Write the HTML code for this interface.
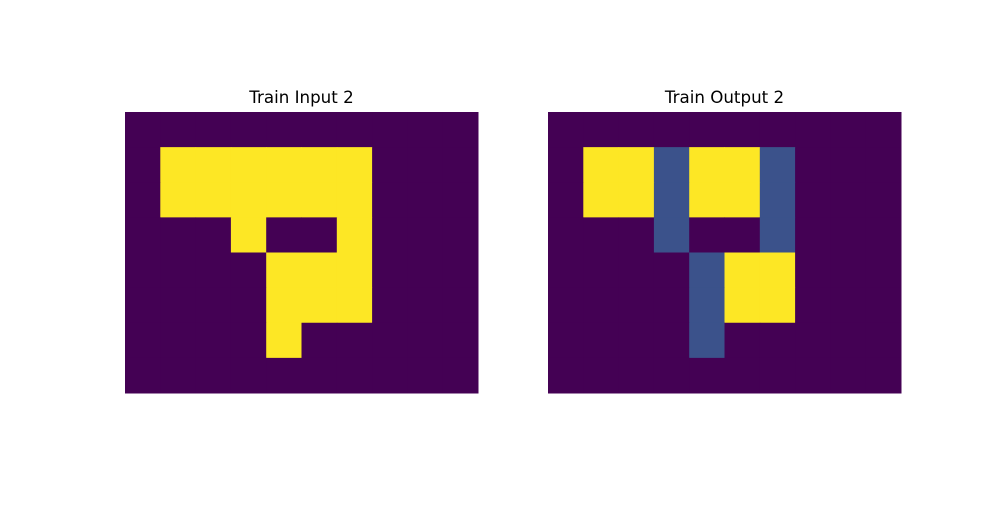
<!DOCTYPE html>
<html><head><meta charset="utf-8"><style>
body{margin:0;background:#fff;width:1000px;height:500px;overflow:hidden}
svg text{font-family:"DejaVu Sans","Liberation Sans",sans-serif;font-size:16.7px;fill:#000}
</style></head><body>
<svg id="chart" width="1000" height="500"></svg>
<script>
const inputGrid = [
 [0,0,0,0,0,0,0,0,0,0],
 [0,4,4,4,4,4,4,0,0,0],
 [0,4,4,4,4,4,4,0,0,0],
 [0,0,0,4,0,0,4,0,0,0],
 [0,0,0,0,4,4,4,0,0,0],
 [0,0,0,0,4,4,4,0,0,0],
 [0,0,0,0,4,0,0,0,0,0],
 [0,0,0,0,0,0,0,0,0,0]
];
const outputGrid = [
 [0,0,0,0,0,0,0,0,0,0],
 [0,4,4,1,4,4,1,0,0,0],
 [0,4,4,1,4,4,1,0,0,0],
 [0,0,0,1,0,0,1,0,0,0],
 [0,0,0,0,1,4,4,0,0,0],
 [0,0,0,0,1,4,4,0,0,0],
 [0,0,0,0,1,0,0,0,0,0],
 [0,0,0,0,0,0,0,0,0,0]
];
const panelTitles = ["Train Input 2","Train Output 2"];
const colorMap = {0:"#440154",1:"#3b528b",4:"#fde725"};
const NS="http://www.w3.org/2000/svg";
const svg=document.getElementById('chart');
function panel(grid,x0,title,name){
  const g=document.createElementNS(NS,'g');
  
  
  svg.appendChild(g);
  const W=353,H=281,y0=112;
  const rows=grid.length, cols=grid[0].length;
  const cw=W/cols, ch=H/rows;
  grid.forEach((row,r)=>row.forEach((v,c)=>{
    const rect=document.createElementNS(NS,'rect');
    rect.setAttribute('x',x0+c*cw);rect.setAttribute('y',y0+r*ch);
    rect.setAttribute('width',cw+0.5);rect.setAttribute('height',ch+0.5);
    rect.setAttribute('fill',colorMap[v]);
    
    
    g.appendChild(rect);
  }));
  const t=document.createElementNS(NS,'text');
  t.setAttribute('x',x0+W/2);t.setAttribute('y',y0-9);
  t.setAttribute('text-anchor','middle');
  t.textContent=title;
  
  
  g.appendChild(t);
}
panel(inputGrid,125,panelTitles[0],'input-grid');
panel(outputGrid,548,panelTitles[1],'output-grid');
</script>
</body></html>
